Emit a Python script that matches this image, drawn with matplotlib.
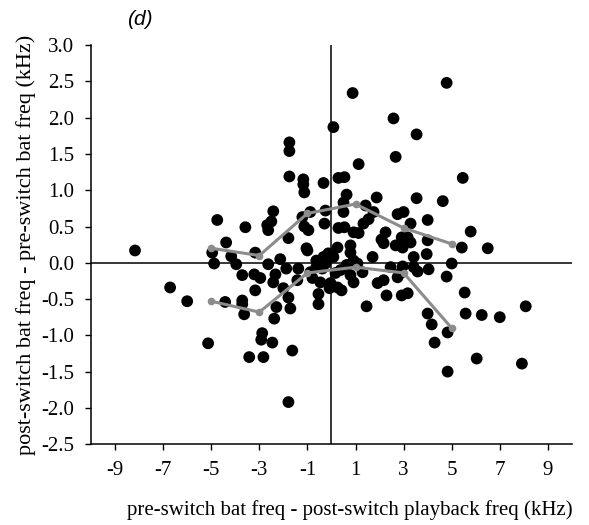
import numpy as np
import matplotlib
matplotlib.use("Agg")
import matplotlib.pyplot as plt

plt.rcParams['axes.unicode_minus'] = False

# scatter points: (playback offset, bat frequency change), kHz
pts = [
    (-8.17, 0.17), (-4.75, 0.59), (-4.38, 0.28), (-4.96, 0.14), (-4.17, 0.09),
    (-3.58, 0.49), (-3.17, 0.14), (-2.67, 0.52), (-2.63, 0.45), (-2.42, 0.71),
    (-2.50, 0.57), (-1.79, 0.34), (-2.13, 0.05), (-1.75, 1.66), (-1.75, 1.54),
    (-1.75, 1.19), (-1.17, 1.15), (-1.17, 1.08), (-1.13, 0.97), (-0.33, 1.10),
    (0.08, 1.87), (-0.88, 0.70), (-1.21, 0.63), (-0.25, 0.72), (-0.29, 0.54),
    (-1.13, 0.50), (-0.96, 0.45), (-1.04, 0.20), (-0.63, 0.03), (-0.13, 0.13),
    (0.29, 1.17), (0.29, 0.48), (0.25, 0.21), (0.88, 2.34), (4.79, 2.48),
    (2.58, 1.99), (3.54, 1.77), (2.67, 1.46), (1.13, 1.36), (5.46, 1.17),
    (0.54, 1.18), (0.63, 0.94), (1.88, 0.90), (3.54, 0.89), (4.63, 0.85),
    (0.50, 0.83), (1.42, 0.79), (0.50, 0.70), (1.75, 0.70), (2.75, 0.67),
    (3.00, 0.70), (1.54, 0.60), (1.33, 0.54), (3.29, 0.54), (4.00, 0.59),
    (0.54, 0.49), (0.92, 0.42), (1.13, 0.41), (2.25, 0.42), (2.08, 0.32),
    (2.17, 0.27), (2.92, 0.35), (3.17, 0.35), (3.29, 0.28), (2.67, 0.24),
    (2.96, 0.21), (4.00, 0.31), (5.79, 0.43), (5.42, 0.21), (6.50, 0.20),
    (1.71, 0.08), (3.42, 0.08), (3.96, 0.12), (0.79, 0.24), (0.79, 0.14),
    (0.08, 0.08), (0.92, 0.03), (-1.00, 0.17), (-0.33, 0.08), (1.08, -0.01),
    (-4.88, -0.01), (-3.96, -0.02), (-2.63, -0.02), (-1.88, -0.08), (-1.38, -0.08),
    (-3.71, -0.17), (-3.21, -0.16), (-2.96, -0.21), (-2.33, -0.16), (-2.42, -0.27),
    (-1.42, -0.24), (-0.46, -0.27), (-0.08, -0.35), (-0.54, -0.43), (-0.54, -0.57),
    (-6.71, -0.34), (-6.00, -0.53), (-4.42, -0.54), (-3.71, -0.52), (-3.71, -0.57),
    (-3.63, -0.71), (-3.17, -0.38), (-2.00, -0.35), (-1.79, -0.48), (-1.71, -0.63),
    (-2.29, -0.61), (-2.38, -0.77), (-5.13, -1.11), (-2.88, -0.97), (-2.92, -1.06),
    (-2.46, -1.10), (-3.42, -1.30), (-2.83, -1.30), (-1.63, -1.21), (-1.79, -1.92),
    (-0.63, -0.06), (-0.38, -0.08), (-0.25, -0.01), (2.46, -0.06), (2.96, -0.05),
    (3.42, -0.06), (4.04, -0.09), (5.00, -0.01), (0.17, -0.14), (0.63, -0.03),
    (0.79, -0.17), (0.92, -0.27), (0.42, -0.38), (1.46, -0.60), (1.92, -0.28),
    (2.17, -0.24), (2.29, -0.45), (2.75, -0.20), (2.88, -0.14), (3.58, -0.12),
    (4.79, -0.19), (2.92, -0.45), (3.17, -0.42), (5.54, -0.41), (4.00, -0.70),
    (4.17, -0.85), (4.29, -1.10), (4.83, -0.96), (5.58, -0.70), (6.25, -0.72),
    (7.00, -0.75), (8.08, -0.60), (6.04, -1.32), (7.92, -1.39), (4.83, -1.50),
    (-0.88, -0.13), (-0.79, -0.21), (-0.04, -0.28), (0.25, -0.34), (1.29, -0.13),
    (0.38, -0.10), (-0.46, -0.03),
]
x_pts = [p[0] for p in pts]
y_pts = [p[1] for p in pts]

# binned means (gray lines)
bin_x = [-5, -3, -1, 1, 3, 5]
upper_y = [0.20, 0.10, 0.68, 0.81, 0.48, 0.26]
lower_y = [-0.53, -0.68, -0.14, -0.06, -0.14, -0.90]

x_ticks = [-9, -7, -5, -3, -1, 1, 3, 5, 7, 9]
y_ticks = np.arange(-2.5, 3.01, 0.5)

fig = plt.figure(figsize=(5.89, 5.25), dpi=100)
ax = fig.add_axes([0.1545, 0.154, 0.8165, 0.760])

ax.axhline(0, color='k', lw=1.1, zorder=1)
ax.axvline(0, color='k', lw=1.1, zorder=1)
ax.scatter(x_pts, y_pts, s=72, color='k', edgecolors='none', zorder=2)
ax.plot(bin_x, upper_y, color='#8c8c8c', lw=2.2, marker='o', ms=4.5, zorder=3)
ax.plot(bin_x, lower_y, color='#8c8c8c', lw=2.2, marker='o', ms=4.5, zorder=3)

ax.set_xlim(-10, 10)
ax.set_ylim(-2.5, 3.0)
ax.set_xticks(x_ticks)
ax.set_yticks(y_ticks)
ax.set_yticklabels([f"{v:.1f}" for v in y_ticks])

for s in ['top', 'right']:
    ax.spines[s].set_visible(False)
for s in ['left', 'bottom']:
    ax.spines[s].set_linewidth(1.1)

serif = 'Liberation Serif'
ax.tick_params(direction='out', length=4, width=1, pad=8, labelsize=15)
for lab in ax.get_xticklabels() + ax.get_yticklabels():
    lab.set_fontfamily(serif)

ax.set_xlabel('pre-switch bat freq - post-switch playback freq (kHz)',
              fontfamily=serif, fontsize=15)
ax.xaxis.set_label_coords(0.538, -0.14)
ax.set_ylabel('post-switch bat freq - pre-switch bat freq (kHz)',
              fontfamily=serif, fontsize=16, labelpad=4)

fig.text(0.238, 0.962, '(d)', fontfamily='Liberation Sans', style='italic',
         fontsize=15, ha='center', va='center')

fig.savefig('out.png', dpi=100)
